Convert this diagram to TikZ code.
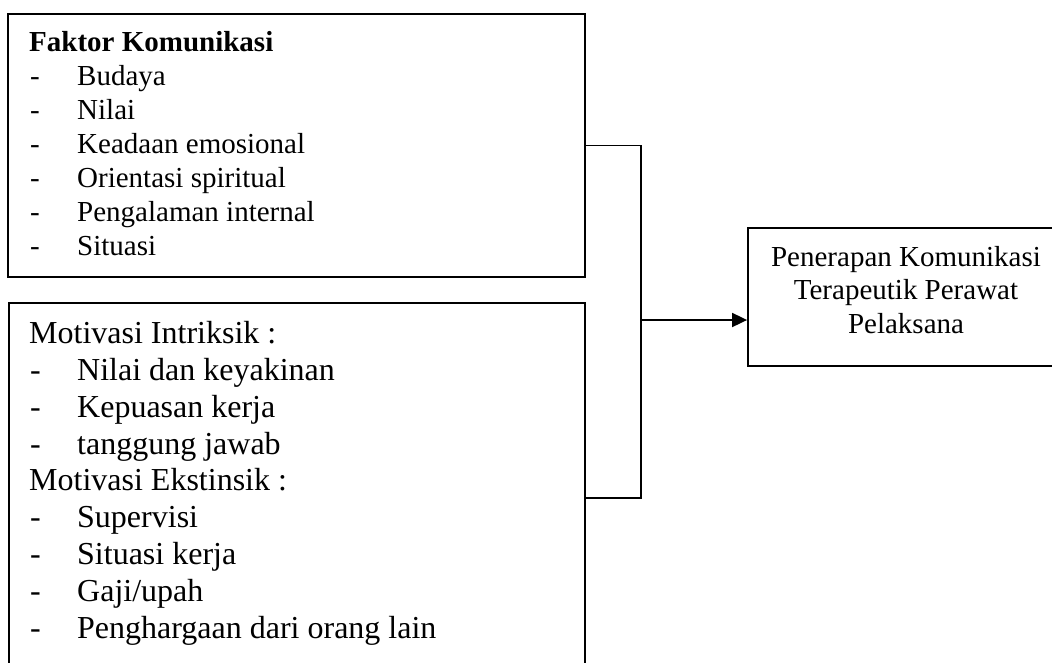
\documentclass[tikz,border=0pt]{standalone}
\usepackage{fontspec}
\setmainfont{Liberation Serif}
\usetikzlibrary{arrows.meta}
\begin{document}
\begin{tikzpicture}[x=1pt,y=-1pt,
  box/.style={draw,line width=1.8pt,rectangle,inner sep=0pt},
  conn/.style={line width=1.8pt},
  arrowline/.style={line width=1.8pt,-{Triangle[length=15pt,width=14pt]}},
  txta/.style={anchor=base west,inner sep=0pt,font=\fontsize{29}{33}\selectfont},
  txtb/.style={anchor=base west,inner sep=0pt,font=\fontsize{32}{37}\selectfont},
  txtc/.style={anchor=base,inner sep=0pt,font=\fontsize{29}{33}\selectfont}]
\useasboundingbox (0,0) rectangle (1052,662);
\clip (0,0) rectangle (1052,662);
\fill[white] (0,0) rectangle (1052,662);
% boxes
\node[box,minimum width=577pt,minimum height=263pt] (f) at (296.5,145.5) {};
\node[box,minimum width=576pt,minimum height=390pt] (m) at (297,498) {};
\node[box,minimum width=332pt,minimum height=138pt] (p) at (914,297) {};
% box 1 text
\node[txta] (f0) at (29,51.7) {\bfseries Faktor Komunikasi};
\foreach \t [count=\i] in {Budaya,Nilai,Keadaan emosional,Orientasi spiritual,Pengalaman internal,Situasi}{
  \node[txta] (fd\i) at (30,51.7+33.9*\i) {-};
  \node[txta] (ft\i) at (77,51.7+33.9*\i) {\t};
}
% box 2 text
\node[txtb] (mi) at (29,343.3) {Motivasi Intriksik :};
\foreach \t [count=\i] in {Nilai dan keyakinan,Kepuasan kerja,tanggung jawab}{
  \node[txtb] (mid\i) at (30,343.3+36.9*\i) {-};
  \node[txtb] (mit\i) at (77,343.3+36.9*\i) {\t};
}
\node[txtb] (me) at (29,343.3+36.9*4) {Motivasi Ekstinsik :};
\foreach \t [count=\i] in {Supervisi,Situasi kerja,Gaji/upah,Penghargaan dari orang lain}{
  \node[txtb] (med\i) at (30,490.9+36.9*\i) {-};
  \node[txtb] (met\i) at (77,490.9+36.9*\i) {\t};
}
% box 3 text
\node[txtc] (p1) at (906,266) {Penerapan Komunikasi};
\node[txtc] (p2) at (906,299.5) {Terapeutik Perawat};
\node[txtc] (p3) at (906,333) {Pelaksana};
% connectors
\draw[conn] (f.east) -- ++(55,0) |- (m.east);
\coordinate (j) at (640,320);
\draw[arrowline] (j) -- (j -| p.west);
\end{tikzpicture}
\end{document}
